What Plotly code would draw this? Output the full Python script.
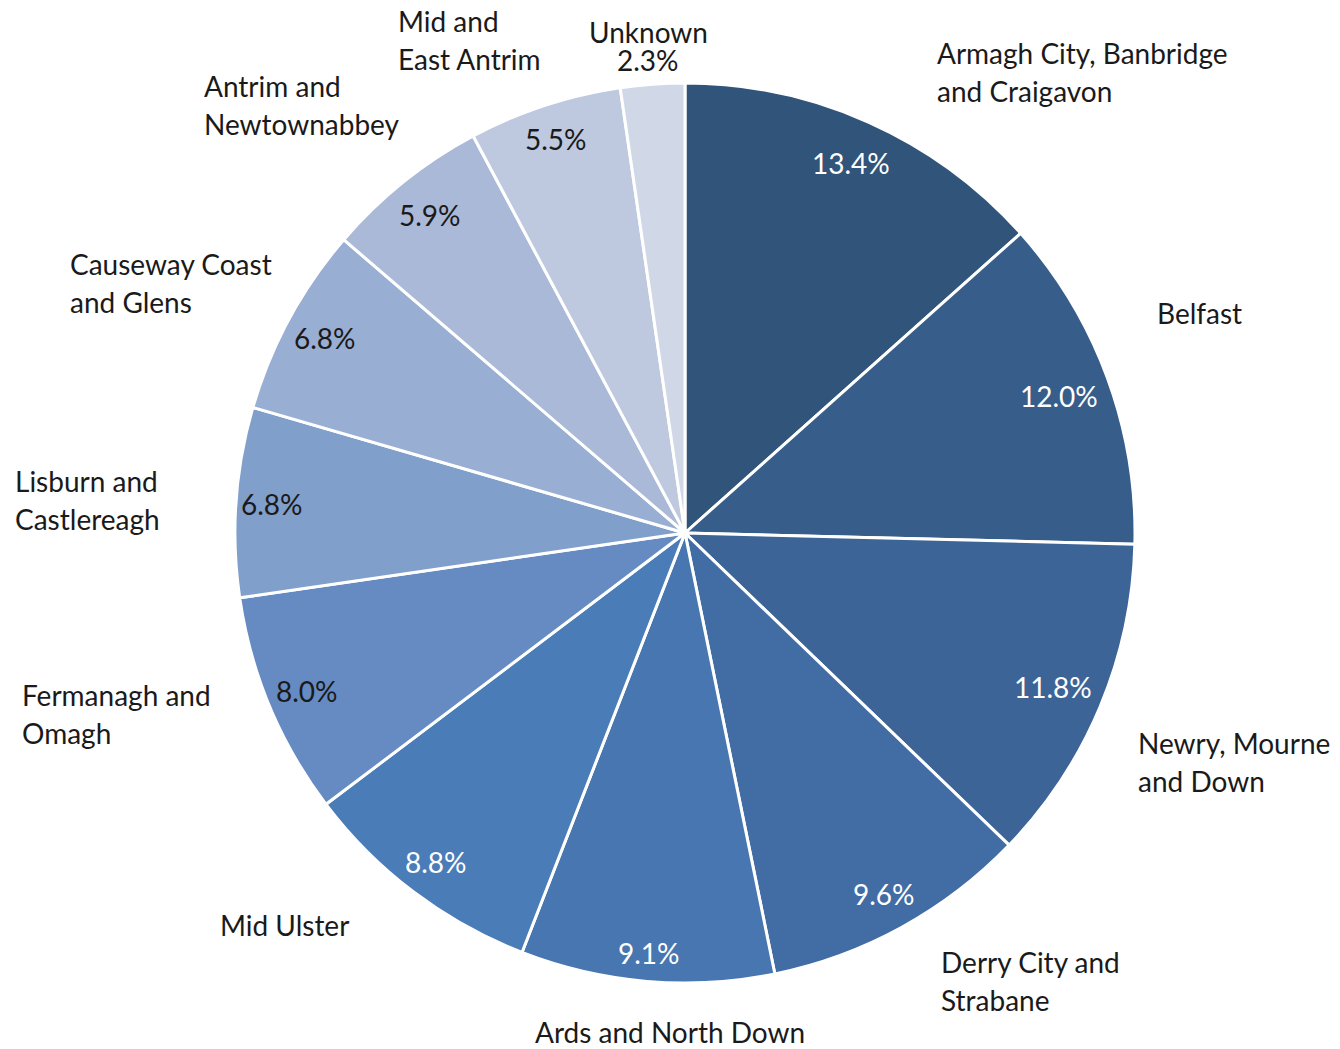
import math
import plotly.graph_objects as go

# ---- data ----
councils = [
    "Armagh City, Banbridge and Craigavon",
    "Belfast",
    "Newry, Mourne and Down",
    "Derry City and Strabane",
    "Ards and North Down",
    "Mid Ulster",
    "Fermanagh and Omagh",
    "Lisburn and Castlereagh",
    "Causeway Coast and Glens",
    "Antrim and Newtownabbey",
    "Mid and East Antrim",
    "Unknown",
]
shares = [13.4, 12.0, 11.8, 9.6, 9.1, 8.8, 8.0, 6.8, 6.8, 5.9, 5.5, 2.3]
label_lines = [
    ["Armagh City, Banbridge", "and Craigavon"],
    ["Belfast"],
    ["Newry, Mourne", "and Down"],
    ["Derry City and", "Strabane"],
    ["Ards and North Down"],
    ["Mid Ulster"],
    ["Fermanagh and", "Omagh"],
    ["Lisburn and", "Castlereagh"],
    ["Causeway Coast", "and Glens"],
    ["Antrim and", "Newtownabbey"],
    ["Mid and", "East Antrim"],
    ["Unknown"],
]

# ---- styles / layout ----
W, H = 1340, 1049
OFF = 8  # page body margin offset
colors = ["#31547A", "#375D8A", "#3C6497", "#416CA4", "#4776B0", "#4A7CB8",
          "#668BC2", "#819FCB", "#98AED3", "#AAB9D8", "#BEC9E0", "#D0D8E7"]
pct_colors = ["white"] * 6 + ["#1a1a1a"] * 6
pct_radius = [0.90, 0.885, 0.887, 0.916, 0.936, 0.917, 0.91, 0.919, 0.909, 0.906, 0.921, 1.0]
FONT = "Lato"
FS = 28
CX, CY, R = 685 - OFF, 533 - OFF, 450

# label placement (pixel anchor for first line in the reference, anchor side)
label_pos = [
    (935, 53, "left"), (1155, 313, "left"), (1136, 743, "left"), (939, 962, "left"),
    (670, 1032, "center"), (284, 925, "center"), (20, 695, "left"), (13, 481, "left"),
    (68, 264, "left"), (202, 86, "left"), (396, 21, "left"), (648, 32, "center"),
]
LINE_GAP = 38

fig = go.Figure(go.Pie(
    labels=councils, values=shares, sort=False, direction="clockwise", rotation=0,
    marker=dict(colors=colors, line=dict(color="white", width=3)),
    textinfo="none", hoverinfo="label+percent", showlegend=False,
    domain=dict(x=[(CX - R) / W, (CX + R) / W], y=[1 - (CY + R) / H, 1 - (CY - R) / H]),
))

ann = []
total = sum(shares)
cum = 0.0
for i, v in enumerate(shares):
    mid = (cum + v / 2) / total * 2 * math.pi
    cum += v
    if councils[i] != "Unknown":
        r = pct_radius[i] * R
        px = CX + r * math.sin(mid)
        py = CY - r * math.cos(mid)
        ann.append(dict(x=px / W, y=1 - py / H, xref="paper", yref="paper",
                        text=f"{v:.1f}%", showarrow=False, xanchor="center", yanchor="middle",
                        font=dict(family=FONT, size=FS, color=pct_colors[i])))
    lx, ly, side = label_pos[i]
    lx -= OFF
    ly -= OFF
    lines = list(label_lines[i])
    gap = LINE_GAP
    if councils[i] == "Unknown":
        lines.append(f"{v:.1f}%")
        gap = 28
    for j, t in enumerate(lines):
        ann.append(dict(x=lx / W, y=1 - (ly + j * gap) / H, xref="paper", yref="paper",
                        text=t, showarrow=False, xanchor=side, yanchor="middle",
                        font=dict(family=FONT, size=FS, color="#1a1a1a")))

fig.update_layout(
    width=W, height=H, margin=dict(l=0, r=0, t=0, b=0),
    paper_bgcolor="white", plot_bgcolor="white", annotations=ann,
)

fig.write_html("out.html")
